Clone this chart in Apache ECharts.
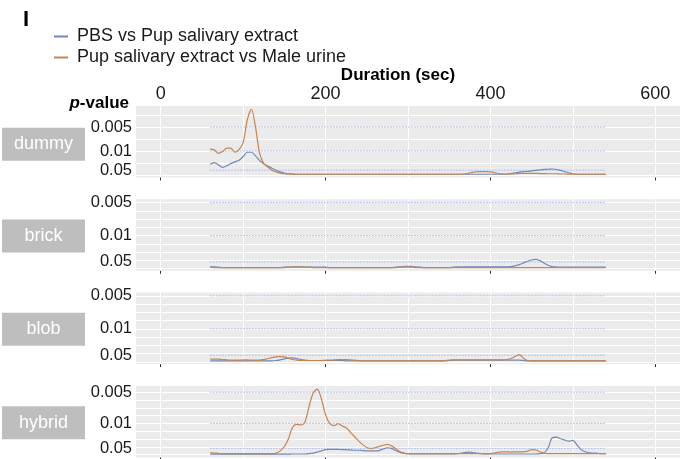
<!DOCTYPE html>
<html>
<head>
<meta charset="utf-8">
<script src="https://cdn.jsdelivr.net/npm/echarts@6/dist/echarts.min.js"></script>
<style>
  html, body { margin: 0; padding: 0; background: #fff; }
  #chart { width: 680px; height: 459px; }
</style>
</head>
<body>
<div id="chart"></div>
<script>
// sample times (sec)
const times = [
  60, 65, 70, 75, 80, 85, 90, 95, 100, 105,
  110, 115, 120, 125, 130, 135, 140, 145, 150, 155,
  160, 165, 170, 175, 180, 185, 190, 195, 200, 205,
  210, 215, 220, 225, 230, 235, 240, 245, 250, 255,
  260, 265, 270, 275, 280, 285, 290, 295, 300, 305,
  310, 315, 320, 325, 330, 335, 340, 345, 350, 355,
  360, 365, 370, 375, 380, 385, 390, 395, 400, 405,
  410, 415, 420, 425, 430, 435, 440, 445, 450, 455,
  460, 465, 470, 475, 480, 485, 490, 495, 500, 505,
  510, 515, 520, 525, 530, 535, 540
];
const panels = ['dummy', 'brick', 'blob', 'hybrid'];
const seriesNames = ['PBS vs Pup salivary extract', 'Pup salivary extract vs Male urine'];
const pTicks = [0.005, 0.01, 0.05];
const xTicks = [0, 200, 400, 600];
const xGridLines = [0, 100, 200, 300, 400, 500, 600];

// values are 1/p (the y axis is linear in 1/p)
const dummyPbs = [
  45, 52, 42, 32, 38, 48, 55, 62, 77, 95,
  95, 80, 60, 47, 37, 28, 20, 13, 8, 5,
  4, 3, 3, 3, 3, 3, 3, 3, 3, 3,
  3, 3, 3, 3, 3, 3, 3, 3, 3, 3,
  3, 3, 3, 3, 3, 3, 3, 3, 3, 3,
  3, 3, 3, 3, 3, 3, 3, 3, 3, 3,
  3, 3, 3, 3, 3, 3, 3, 3, 3, 3,
  3, 3, 4, 6, 9, 12, 14, 15, 17, 19,
  21, 23, 24, 25, 23, 19, 14, 9, 5, 3,
  3, 3, 3, 3, 3, 3, 3
];
const dummyMale = [
  108, 105, 90, 98, 112, 112, 95, 106, 135, 230,
  275, 200, 90, 48, 33, 20, 13, 8, 5, 4,
  3, 3, 3, 3, 3, 3, 3, 3, 3, 3,
  3, 3, 3, 3, 3, 3, 3, 3, 3, 3,
  3, 3, 3, 3, 3, 3, 3, 3, 3, 3,
  3, 3, 3, 3, 3, 3, 3, 3, 3, 3,
  3, 3, 5, 9, 12, 14, 14, 14, 13, 10,
  6, 4, 4, 4, 5, 6, 7, 7, 7, 7,
  6, 6, 5, 5, 5, 4, 4, 3, 3, 3,
  3, 3, 3, 3, 3, 3, 3
];
const brickPbs = [
  6, 5, 4, 3, 3, 3, 3, 3, 3, 3,
  3, 3, 3, 3, 3, 3, 3, 3, 4, 4,
  5, 5, 5, 4, 4, 4, 4, 4, 4, 3,
  3, 3, 3, 3, 3, 3, 3, 3, 3, 3,
  3, 3, 3, 3, 3, 4, 5, 6, 7, 6,
  5, 4, 3, 3, 3, 3, 3, 3, 3, 4,
  5, 5, 5, 5, 5, 5, 5, 5, 5, 5,
  5, 5, 5, 6, 8, 12, 17, 22, 26, 28,
  24, 17, 10, 6, 5, 4, 4, 4, 4, 4,
  4, 4, 4, 4, 4, 4, 4
];
const brickMale = [
  4, 3, 3, 3, 3, 3, 3, 3, 3, 3,
  3, 3, 3, 3, 3, 3, 3, 3, 3, 4,
  4, 4, 4, 4, 4, 3, 3, 3, 3, 3,
  3, 3, 3, 3, 3, 3, 3, 3, 3, 3,
  3, 3, 3, 3, 3, 3, 4, 4, 4, 4,
  3, 3, 3, 3, 3, 3, 3, 3, 3, 3,
  3, 3, 3, 3, 3, 3, 3, 3, 3, 3,
  3, 3, 3, 3, 3, 3, 3, 3, 3, 3,
  3, 3, 3, 3, 3, 3, 3, 3, 3, 3,
  3, 3, 3, 3, 3, 3, 3
];
const blobPbs = [
  3, 3, 3, 3, 3, 3, 3, 3, 3, 3,
  3, 3, 3, 3, 3, 3, 4, 6, 9, 11,
  12, 10, 7, 5, 4, 4, 4, 4, 4, 4,
  4, 4, 4, 3, 3, 3, 3, 3, 3, 3,
  3, 3, 3, 3, 3, 3, 3, 3, 3, 3,
  3, 3, 3, 3, 3, 3, 3, 3, 4, 5,
  5, 5, 5, 5, 5, 5, 5, 5, 5, 5,
  5, 5, 5, 5, 5, 5, 4, 3, 3, 3,
  3, 3, 3, 3, 3, 3, 3, 3, 3, 3,
  3, 3, 3, 3, 3, 3, 3
];
const blobMale = [
  8, 8, 8, 7, 6, 5, 5, 5, 6, 6,
  5, 5, 5, 7, 10, 13, 15, 16, 15, 11,
  7, 5, 4, 4, 4, 4, 4, 4, 5, 5,
  6, 7, 7, 7, 6, 5, 4, 3, 3, 3,
  3, 3, 3, 3, 3, 3, 3, 3, 3, 3,
  3, 3, 3, 3, 3, 3, 3, 4, 5, 6,
  6, 6, 6, 6, 6, 6, 6, 6, 6, 6,
  6, 6, 7, 10, 16, 22, 11, 4, 3, 3,
  3, 3, 3, 3, 3, 3, 3, 3, 3, 3,
  3, 3, 3, 3, 3, 3, 3
];
const hybridPbs = [
  1.5, 1.5, 1.5, 1.5, 1.5, 1.5, 1.5, 1.5, 1.5, 1.5,
  1.5, 1.5, 1.5, 1.5, 1.5, 1.5, 1.5, 1.5, 1.5, 1.5,
  2, 2, 2, 2, 3, 5, 8, 12, 16, 17,
  17, 17, 16, 16, 15, 14, 14, 13, 12, 12,
  12, 13, 18, 22, 20, 13, 7, 4, 3, 2,
  2, 2, 2, 2, 2, 2, 2, 2, 2, 2,
  3, 5, 7, 8, 6, 4, 3, 2, 2, 2,
  2, 2, 2, 2, 2, 2, 2, 2, 2, 2,
  3, 5, 22, 54, 56, 51, 47, 43, 46, 31,
  16, 9, 6, 5, 4, 3, 3
];
const hybridMale = [
  6, 5, 4, 3, 3, 3, 3, 3, 3, 3,
  3, 3, 3, 3, 3, 3, 5, 12, 26, 51,
  88, 97, 95, 105, 155, 198, 210, 178, 128, 100,
  93, 99, 92, 86, 72, 58, 44, 32, 23, 20,
  22, 26, 30, 33, 28, 19, 10, 5, 3, 3,
  3, 3, 3, 3, 3, 3, 3, 3, 3, 3,
  3, 3, 3, 3, 3, 3, 3, 3, 3, 5,
  8, 9, 9, 8, 9, 9, 9, 11, 16, 15,
  9, 5, 3, 3, 3, 3, 3, 3, 3, 3,
  3, 3, 3, 3, 3, 3, 3
];

const panelData = [
  [dummyPbs, dummyMale],
  [brickPbs, brickMale],
  [blobPbs, blobMale],
  [hybridPbs, hybridMale]
];

const FONT = '"Liberation Sans", Arial, Helvetica, sans-serif';
const colors = ['#7089b6', '#c8844f'];
const gridLeft = 136;
const gridTop0 = 106;
const gridH = 71.5;
const gridPitch = 93.3;

const dom = echarts.init(document.getElementById('chart'));

const grids = [], xAxes = [], yAxes = [], series = [], graphics = [];
const thresholds = pTicks.map(p => 1 / p);

panels.forEach((name, i) => {
  const top = gridTop0 + i * gridPitch;
  grids.push({
    left: gridLeft, right: 0, top: top, height: gridH,
    show: true, backgroundColor: '#ebebeb', borderWidth: 0
  });

  // y range like ggplot: data + thresholds, 5% expansion
  const all = panelData[i][0].concat(panelData[i][1], thresholds);
  const lo = Math.min(...all), hi = Math.max(...all);
  const pad = (hi - lo) * 0.05;
  const yMin = lo - pad, yMax = hi + pad;
  const step = hi - lo > 250 ? 50 : 25;
  const yLines = [];
  for (let v = Math.ceil(yMin / step) * step; v <= yMax; v += step) yLines.push(v);

  yAxes.push({
    gridIndex: i, type: 'value', min: yMin, max: yMax,
    axisLine: { show: false, onZero: false },
    axisTick: { show: false, customValues: yLines },
    axisLabel: {
      customValues: thresholds, margin: 4, fontSize: 16.5, color: '#1a1a1a', fontFamily: FONT,
      formatter: v => {
        const p = pTicks.find(q => Math.abs(1 / q - v) < 1e-6);
        return p === undefined ? '' : String(p);
      }
    },
    splitLine: { show: true, lineStyle: { color: '#ffffff', width: 1 } }
  });

  const gridAxis = xAxes.length;
  xAxes.push({
    gridIndex: i, type: 'value', min: -30, max: 630, position: 'bottom',
    axisLine: { show: false, onZero: false },
    axisTick: { show: false, customValues: xGridLines },
    axisLabel: { show: false },
    splitLine: { show: true, lineStyle: { color: '#ffffff', width: 1 } }
  });
  xAxes.push({
    gridIndex: i, type: 'value', min: -30, max: 630, position: 'bottom',
    axisLine: { show: false, onZero: false },
    axisTick: { show: true, customValues: xTicks, length: 3, lineStyle: { color: '#333', width: 1 } },
    axisLabel: { show: false },
    splitLine: { show: false }
  });
  if (i === 0) {
    xAxes.push({
      gridIndex: 0, type: 'value', min: -30, max: 630, position: 'top',
      name: 'Duration (sec)', nameLocation: 'middle', nameGap: 20,
      nameTextStyle: { fontSize: 17, fontWeight: 'bold', color: '#000', fontFamily: FONT, padding: [0, 20, 0, 0] },
      axisLine: { show: false, onZero: false },
      axisTick: { show: false },
      axisLabel: { customValues: xTicks, margin: 3, fontSize: 18, color: '#1a1a1a', fontFamily: FONT },
      splitLine: { show: false }
    });
  }

  // dotted significance lines over the sampled time span
  thresholds.forEach(v => {
    series.push({
      type: 'line', xAxisIndex: gridAxis, yAxisIndex: i, silent: true,
      data: [[times[0], v], [times[times.length - 1], v]],
      symbol: 'none', z: 1,
      lineStyle: { color: '#a3b5f0', width: 1, type: [1.5, 1.5] }
    });
  });

  panelData[i].forEach((vals, k) => {
    series.push({
      type: 'line', name: seriesNames[k], xAxisIndex: gridAxis, yAxisIndex: i,
      data: times.map((t, j) => [t, vals[j]]),
      smooth: 0.3, showSymbol: false, z: 3,
      lineStyle: { color: colors[k], width: 1.2 },
      itemStyle: { color: colors[k] }
    });
  });

  // strip label, a touch below the panel centre
  const cy = top + gridH / 2 + (i === 0 ? 2.5 : 1);
  graphics.push({
    type: 'rect', shape: { x: 2, y: cy - 16.5, width: 83, height: 33 },
    style: { fill: '#bebebe' }
  });
  graphics.push({
    type: 'text', x: 43.5, y: cy,
    style: { text: name, fill: '#fff', font: '18px ' + FONT, align: 'center', verticalAlign: 'middle' }
  });
});

graphics.push({
  type: 'text', x: 23, y: 20,
  style: { text: 'I', fill: '#000', font: 'bold 22px ' + FONT, verticalAlign: 'middle' }
});
graphics.push({
  type: 'text', x: 129, y: 103,
  style: {
    text: '{p|p}-value', fill: '#000', font: 'bold 17px ' + FONT, align: 'right', verticalAlign: 'middle',
    rich: { p: { fontStyle: 'italic', fontWeight: 'bold', fontSize: 17, fontFamily: FONT, fill: '#000' } }
  }
});

const option = {
  animation: false,
  backgroundColor: '#ffffff',
  textStyle: { fontFamily: FONT },
  legend: {
    data: seriesNames, left: 49, top: 21.5, orient: 'vertical', itemGap: 1,
    icon: 'rect', itemWidth: 14, itemHeight: 2,
    textStyle: { fontSize: 18, lineHeight: 20, color: '#1a1a1a', fontFamily: FONT, padding: [0, 0, 0, 4] }
  },
  grid: grids,
  xAxis: xAxes,
  yAxis: yAxes,
  series: series,
  graphic: graphics
};

dom.setOption(option);
</script>
</body>
</html>
